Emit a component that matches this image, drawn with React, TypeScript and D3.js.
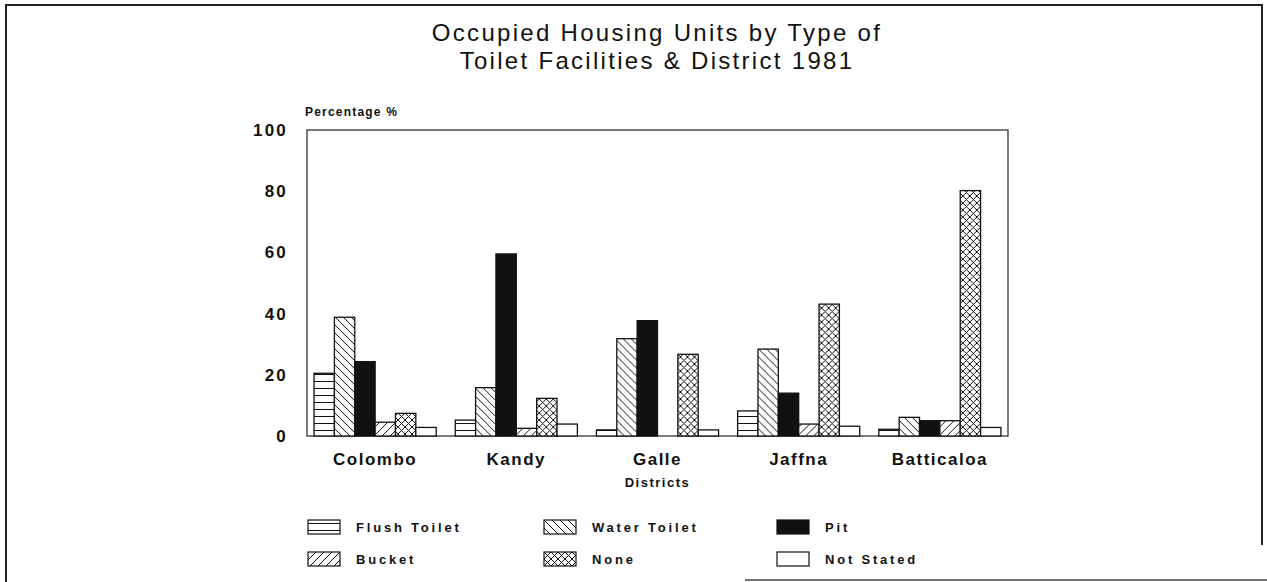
import { useRef, useEffect } from "react";
import * as d3 from "d3";

const districts = ["Colombo", "Kandy", "Galle", "Jaffna", "Batticaloa"];
const flushToilet = [20.5, 5.2, 2.0, 8.2, 2.2];
const waterToilet = [38.8, 15.8, 31.8, 28.4, 6.1];
const pit = [24.3, 59.5, 37.7, 14.0, 5.0];
const bucket = [4.5, 2.5, 0, 3.9, 5.0];
const none = [7.4, 12.3, 26.7, 43.1, 80.2];
const notStated = [2.8, 3.9, 2.0, 3.2, 2.8];
const seriesNames = ["Flush Toilet", "Water Toilet", "Pit", "Bucket", "None", "Not Stated"];
const yTicks = [0, 20, 40, 60, 80, 100];
const titleLines = ["Occupied Housing Units by Type of", "Toilet Facilities & District 1981"];

export default function App() {
  const svgRef = useRef<SVGSVGElement>(null);

  useEffect(() => {
    document.body.style.margin = "0";
    const svg = d3.select(svgRef.current);
    svg.selectAll("*").remove();

    const width = 1267;
    const height = 582;
    const margin = { top: 130, right: 259, bottom: 146, left: 307 };
    const font = "'Liberation Sans', Arial, Helvetica, sans-serif";

    const series = [flushToilet, waterToilet, pit, bucket, none, notStated];
    const fills = ["url(#hlines)", "url(#backslash)", "#111", "url(#slash)", "url(#cross)", "#fff"];

    svg.attr("width", width).attr("height", height).style("font-family", font).style("background", "#fff");

    // patterns
    const defs = svg.append("defs");
    const addPattern = (id: string, size: number, d: string) => {
      const p = defs
        .append("pattern")
        .attr("id", id)
        .attr("patternUnits", "userSpaceOnUse")
        .attr("width", size)
        .attr("height", size);
      p.append("rect").attr("width", size).attr("height", size).attr("fill", "#fff");
      p.append("path").attr("d", d).attr("stroke", "#111").attr("stroke-width", 1).attr("fill", "none");
    };
    addPattern("hlines", 7, "M0,3.5 H7");
    addPattern("backslash", 8, "M0,0 L8,8 M-2,6 L2,10 M6,-2 L10,2");
    addPattern("slash", 8, "M0,8 L8,0 M-2,2 L2,-2 M6,10 L10,6");
    addPattern("cross", 7, "M0,0 L7,7 M-2,5 L2,9 M5,-2 L9,2 M0,7 L7,0 M-2,2 L2,-2 M5,9 L9,5");

    // page frame
    svg.append("path")
      .attr("d", `M6,582 L6,5 L1262,5 L1262,545`)
      .attr("fill", "none").attr("stroke", "#222").attr("stroke-width", 2);
    svg.append("line")
      .attr("x1", 745).attr("x2", 1267).attr("y1", 580).attr("y2", 580)
      .attr("stroke", "#444").attr("stroke-width", 1.5);

    // scales
    const x0 = d3.scaleBand()
      .domain(districts)
      .range([margin.left, width - margin.right])
      .paddingInner(0.135)
      .paddingOuter(0.05);
    const x1 = d3.scaleBand()
      .domain(seriesNames)
      .range([0, x0.bandwidth()]);
    const y = d3.scaleLinear()
      .domain([0, 100])
      .range([height - margin.bottom, margin.top]);

    // plot box
    svg.append("rect")
      .attr("x", margin.left).attr("y", margin.top)
      .attr("width", width - margin.left - margin.right)
      .attr("height", y(0) - margin.top)
      .attr("fill", "none").attr("stroke", "#222").attr("stroke-width", 1.2);

    // y axis labels
    svg.append("g")
      .selectAll("text")
      .data(yTicks)
      .join("text")
      .attr("x", margin.left - 19)
      .attr("y", (d) => y(d) + 6)
      .attr("text-anchor", "end")
      .attr("font-size", 17)
      .attr("font-weight", "bold")
      .attr("letter-spacing", 2.2)
      .attr("fill", "#111")
      .text((d) => d);

    // bars
    const groups = svg.append("g")
      .selectAll("g")
      .data(districts)
      .join("g")
      .attr("transform", (d) => `translate(${x0(d)},0)`);

    groups.selectAll("rect")
      .data((_, i) => series.map((s, k) => ({ key: seriesNames[k], value: s[i], fill: fills[k] })))
      .join("rect")
      .filter((d) => d.value > 0)
      .attr("x", (d) => x1(d.key)!)
      .attr("y", (d) => y(d.value))
      .attr("width", x1.bandwidth())
      .attr("height", (d) => y(0) - y(d.value))
      .attr("fill", (d) => d.fill)
      .attr("stroke", "#111")
      .attr("stroke-width", 1.3);

    // category labels
    svg.append("g")
      .selectAll("text")
      .data(districts)
      .join("text")
      .attr("x", (d) => x0(d)! + x0.bandwidth() / 2)
      .attr("y", y(0) + 29)
      .attr("text-anchor", "middle")
      .attr("font-size", 17)
      .attr("font-weight", "bold")
      .attr("letter-spacing", 1.5)
      .attr("fill", "#111")
      .text((d) => d);

    svg.append("text")
      .attr("x", x0("Galle")! + x0.bandwidth() / 2)
      .attr("y", y(0) + 51)
      .attr("text-anchor", "middle")
      .attr("font-size", 13)
      .attr("font-weight", "bold")
      .attr("letter-spacing", 1.5)
      .attr("fill", "#111")
      .text("Districts");

    svg.append("text")
      .attr("x", margin.left - 2)
      .attr("y", margin.top - 14)
      .attr("font-size", 12)
      .attr("font-weight", "bold")
      .attr("letter-spacing", 1.2)
      .attr("fill", "#111")
      .text("Percentage %");

    // title
    svg.append("g")
      .selectAll("text")
      .data(titleLines)
      .join("text")
      .attr("x", 657)
      .attr("y", (_, i) => 41 + i * 28)
      .attr("text-anchor", "middle")
      .attr("font-size", 24)
      .attr("letter-spacing", 2.3)
      .attr("fill", "#111")
      .text((d) => d);

    // legend: 3 columns x 2 rows, filled row by row
    const legendCols = [308, 544, 777];
    const legendRows = [520, 552];
    const legend = svg.append("g")
      .selectAll("g")
      .data(seriesNames)
      .join("g")
      .attr("transform", (_, i) => `translate(${legendCols[i % 3]},${legendRows[Math.floor(i / 3)]})`);
    legend.append("rect")
      .attr("width", 32).attr("height", 14)
      .attr("fill", (_, i) => fills[i])
      .attr("stroke", "#111").attr("stroke-width", 1.2);
    legend.append("text")
      .attr("x", 48).attr("y", 12)
      .attr("font-size", 13)
      .attr("font-weight", "bold")
      .attr("letter-spacing", 2.8)
      .attr("fill", "#111")
      .text((d) => d);
  }, []);

  return <svg ref={svgRef} style={{ display: "block" }} />;
}
